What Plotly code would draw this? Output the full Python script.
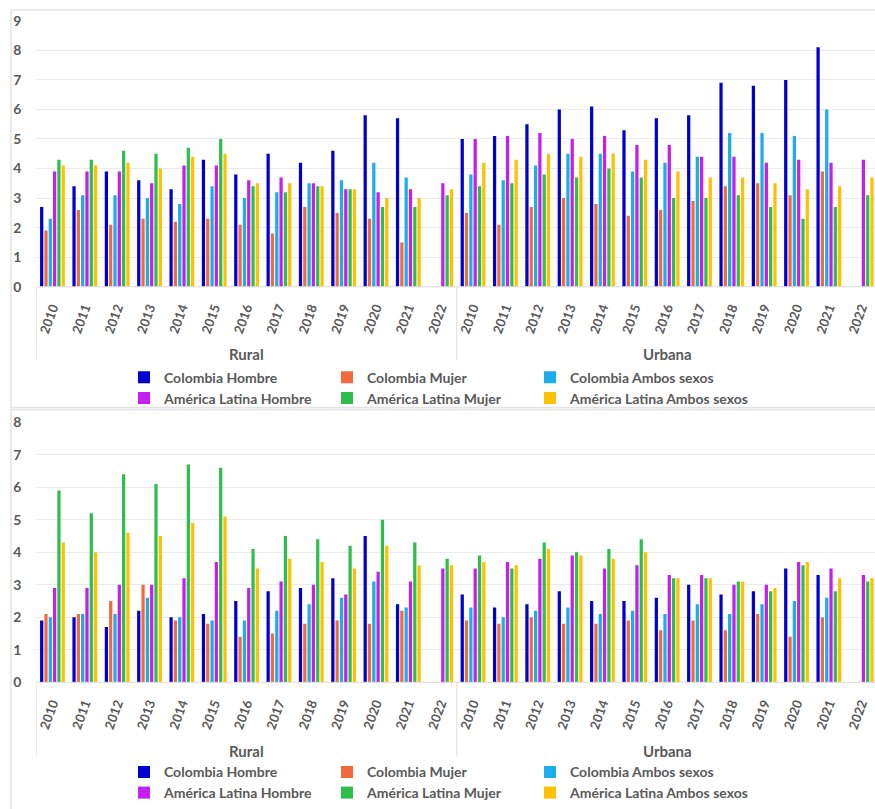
import plotly.graph_objects as go

YEARS = [str(y) for y in range(2010, 2023)]
ZONES = ["Rural", "Urbana"]
SERIES = ["Colombia Hombre", "Colombia Mujer", "Colombia Ambos sexos",
          "América Latina Hombre", "América Latina Mujer", "América Latina Ambos sexos"]
COLORS = ["#0000D0", "#F26A3C", "#1AAEEA", "#C41EF2", "#2EBE4C", "#FFC000"]

# ---- Top panel (Rural 2010-2022 then Urbana 2010-2022) ----
top_col_h = [2.7, 3.4, 3.9, 3.6, 3.3, 4.3, 3.8, 4.5, 4.2, 4.6, 5.8, 5.7, None,
             5.0, 5.1, 5.5, 6.0, 6.1, 5.3, 5.7, 5.8, 6.9, 6.8, 7.0, 8.1, None]
top_col_m = [1.9, 2.6, 2.1, 2.3, 2.2, 2.3, 2.1, 1.8, 2.7, 2.5, 2.3, 1.5, None,
             2.5, 2.1, 2.7, 3.0, 2.8, 2.4, 2.6, 2.9, 3.4, 3.5, 3.1, 3.9, None]
top_col_a = [2.3, 3.1, 3.1, 3.0, 2.8, 3.4, 3.0, 3.2, 3.5, 3.6, 4.2, 3.7, None,
             3.8, 3.6, 4.1, 4.5, 4.5, 3.9, 4.2, 4.4, 5.2, 5.2, 5.1, 6.0, None]
top_al_h = [3.9, 3.9, 3.9, 3.5, 4.1, 4.1, 3.6, 3.7, 3.5, 3.3, 3.2, 3.3, 3.5,
            5.0, 5.1, 5.2, 5.0, 5.1, 4.8, 4.8, 4.4, 4.4, 4.2, 4.3, 4.2, 4.3]
top_al_m = [4.3, 4.3, 4.6, 4.5, 4.7, 5.0, 3.4, 3.2, 3.4, 3.3, 2.7, 2.7, 3.1,
            3.4, 3.5, 3.8, 3.7, 4.0, 3.7, 3.0, 3.0, 3.1, 2.7, 2.3, 2.7, 3.1]
top_al_a = [4.1, 4.1, 4.2, 4.0, 4.4, 4.5, 3.5, 3.5, 3.4, 3.3, 3.0, 3.0, 3.3,
            4.2, 4.3, 4.5, 4.4, 4.5, 4.3, 3.9, 3.7, 3.7, 3.5, 3.3, 3.4, 3.7]

# ---- Bottom panel ----
bot_col_h = [1.9, 2.0, 1.7, 2.2, 2.0, 2.1, 2.5, 2.8, 2.9, 3.2, 4.5, 2.4, None,
             2.7, 2.3, 2.4, 2.8, 2.5, 2.5, 2.6, 3.0, 2.7, 2.8, 3.5, 3.3, None]
bot_col_m = [2.1, 2.1, 2.5, 3.0, 1.9, 1.8, 1.4, 1.5, 1.8, 1.9, 1.8, 2.2, None,
             1.9, 1.8, 2.0, 1.8, 1.8, 1.9, 1.6, 1.9, 1.6, 2.1, 1.4, 2.0, None]
bot_col_a = [2.0, 2.1, 2.1, 2.6, 2.0, 1.9, 1.9, 2.2, 2.4, 2.6, 3.1, 2.3, None,
             2.3, 2.0, 2.2, 2.3, 2.1, 2.2, 2.1, 2.4, 2.1, 2.4, 2.5, 2.6, None]
bot_al_h = [2.9, 2.9, 3.0, 3.0, 3.2, 3.7, 2.9, 3.1, 3.0, 2.7, 3.4, 3.1, 3.5,
            3.5, 3.7, 3.8, 3.9, 3.5, 3.6, 3.3, 3.3, 3.0, 3.0, 3.7, 3.5, 3.3]
bot_al_m = [5.9, 5.2, 6.4, 6.1, 6.7, 6.6, 4.1, 4.5, 4.4, 4.2, 5.0, 4.3, 3.8,
            3.9, 3.5, 4.3, 4.0, 4.1, 4.4, 3.2, 3.2, 3.1, 2.8, 3.6, 2.8, 3.1]
bot_al_a = [4.3, 4.0, 4.6, 4.5, 4.9, 5.1, 3.5, 3.8, 3.7, 3.5, 4.2, 3.6, 3.6,
            3.7, 3.6, 4.1, 3.9, 3.8, 4.0, 3.2, 3.2, 3.1, 2.9, 3.7, 3.2, 3.2]

TOP = [top_col_h, top_col_m, top_col_a, top_al_h, top_al_m, top_al_a]
BOT = [bot_col_h, bot_col_m, bot_col_a, bot_al_h, bot_al_m, bot_al_a]

W, H = 875, 809
GRAY = "#595959"
FONT = "Lato"

cats = list(range(len(ZONES) * len(YEARS)))
ticktext = YEARS * len(ZONES)

def py(px):
    return (H - px) / H

def pxx(px):
    return px / W

fig = go.Figure()
legends_top = ["legend", "legend", "legend", "legend2", "legend2", "legend2"]
legends_bot = ["legend3", "legend3", "legend3", "legend4", "legend4", "legend4"]
LEG_W = [158, 158, 220, 158, 158, 220]
for i, name in enumerate(SERIES):
    fig.add_trace(go.Bar(x=cats, y=TOP[i], name=name, marker_color=COLORS[i],
                         marker_line_width=0, xaxis="x", yaxis="y",
                         legend=legends_top[i], legendwidth=LEG_W[i]))
for i, name in enumerate(SERIES):
    fig.add_trace(go.Bar(x=cats, y=BOT[i], name=name, marker_color=COLORS[i],
                         marker_line_width=0, xaxis="x2", yaxis="y2",
                         legend=legends_bot[i], legendwidth=LEG_W[i]))

STEP = 32.35
x_dom = [pxx(36.3), 1.0]
xrange = [-0.5, -0.5 + (W - 36.3) / STEP]
axis_font = dict(family=FONT, size=13, color=GRAY, weight="bold")

common_x = dict(domain=x_dom, range=xrange, tickmode="array", tickvals=cats,
                ticktext=ticktext, tickangle=-70, tickfont=axis_font,
                showgrid=False, zeroline=False, showline=False, ticks="",
                automargin=False, fixedrange=True, ticklabelstandoff=10)
common_y = dict(tickfont=dict(family=FONT, size=14, color=GRAY, weight="bold"),
                showgrid=True, gridcolor="#EBEBEB", gridwidth=1, zeroline=False,
                showline=False, ticks="", dtick=1, automargin=False,
                ticklabelstandoff=14, fixedrange=True)

fig.update_layout(
    width=W, height=H, margin=dict(l=0, r=0, t=0, b=0),
    paper_bgcolor="white", plot_bgcolor="white",
    barmode="group", bargap=0.2, bargroupgap=0.25,
    font=dict(family=FONT, color=GRAY),
    showlegend=True,
    xaxis=dict(anchor="y", **common_x),
    yaxis=dict(domain=[py(290), py(21)], range=[0, 9], anchor="x", **common_y),
    xaxis2=dict(anchor="y2", **common_x),
    yaxis2=dict(domain=[py(690), py(427)], range=[0, 8], anchor="x2", **common_y),
)

leg_font = dict(family=FONT, size=14, color=GRAY, weight="bold")
def leg(ypx):
    return dict(orientation="h", x=pxx(124), xanchor="left", y=py(ypx), yanchor="middle",
                font=leg_font, entrywidthmode="pixels",
                bgcolor="rgba(0,0,0,0)", itemclick=False, itemdoubleclick=False,
                traceorder="normal", tracegroupgap=0)
fig.update_layout(legend=leg(382), legend2=leg(403), legend3=leg(781), legend4=leg(802))

annotations = []
shapes = []
for xa, ya, ylab, ybot, ytop_axis in [("x", "y", 358, 364, 290), ("x2", "y2", 759, 765, 690)]:
    for j, z in enumerate(ZONES):
        center = j * len(YEARS) + (len(YEARS) - 1) / 2
        annotations.append(dict(x=center, xref=xa, y=py(ylab), yref="paper", text=z,
                                showarrow=False, font=dict(family=FONT, size=15, color=GRAY, weight="bold"),
                                xanchor="center", yanchor="middle"))
    for b in range(len(ZONES) + 1):
        xb = -0.5 + b * len(YEARS)
        shapes.append(dict(type="line", xref=xa, yref="paper", x0=xb, x1=xb,
                           y0=py(ytop_axis), y1=py(ybot), line=dict(color="#DCDCDC", width=1)))
    shapes.append(dict(type="line", xref=xa, yref="paper", x0=-0.5, x1=xrange[1],
                       y0=py(ytop_axis), y1=py(ytop_axis), line=dict(color="#D9D9D9", width=1)))

# chart frames
shapes.append(dict(type="rect", xref="paper", yref="paper", x0=pxx(11), x1=1.01,
                   y0=py(412), y1=py(10), line=dict(color="#E3E3E3", width=1.5)))
shapes.append(dict(type="rect", xref="paper", yref="paper", x0=pxx(11), x1=1.01,
                   y0=py(820), y1=py(414), line=dict(color="#E3E3E3", width=1.5)))

fig.update_layout(annotations=annotations, shapes=shapes)
fig.write_html("out.html", config={"displayModeBar": False},
               post_script="document.body.style.margin='0';document.body.style.overflow='hidden';")
